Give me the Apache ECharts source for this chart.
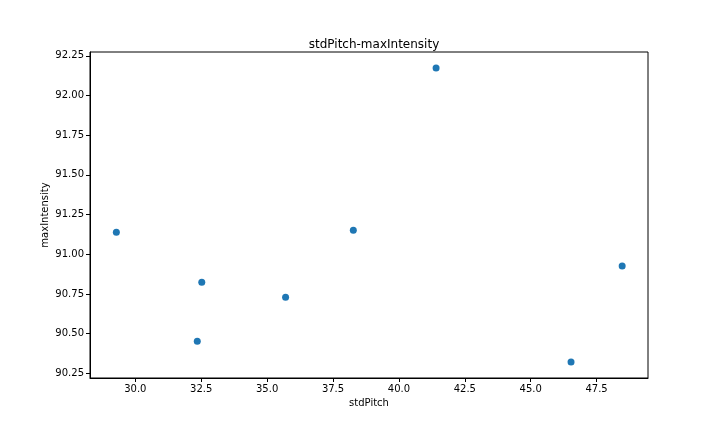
<!DOCTYPE html>
<html lang="en">
  <head>
    <meta charset="UTF-8" />
    <title>stdPitch-maxIntensity</title>
    <style>
      body { margin: 0; background: #fff; }
      #chart { width: 720px; height: 432px; }
    </style>
    <script src="https://cdn.jsdelivr.net/npm/echarts@6/dist/echarts.min.js"></script>
  </head>
  <body>
    <div id="chart"></div>
    <script>
      const stdPitch = [29.28, 32.52, 32.35, 35.7, 38.27, 41.41, 46.53, 48.47];
      const maxIntensity = [91.139, 90.824, 90.452, 90.729, 91.151, 92.173, 90.322, 90.926];
      const xTicks = [30, 32.5, 35, 37.5, 40, 42.5, 45, 47.5];
      const yTicks = [90.25, 90.5, 90.75, 91, 91.25, 91.5, 91.75, 92, 92.25];

      let points = [];
      for (let i = 0; i < stdPitch.length; i++) {
        points.push([stdPitch[i], maxIntensity[i]]);
      }

      const font = "DejaVu Sans";
      let myChart = echarts.init(document.getElementById("chart"), null, { renderer: "canvas" });
      let option = {
        animation: false,
        backgroundColor: "#fff",
        title: {
          text: "stdPitch-maxIntensity",
          left: 369, top: 34, textAlign: "center",
          textStyle: { fontFamily: font, fontSize: 12, fontWeight: "normal", color: "#000" },
        },
        grid: {
          left: 90, right: 72, top: 52, bottom: 54,
          show: true, borderColor: "#000", borderWidth: 1,
        },
        xAxis: {
          type: "value", min: 28.28, max: 49.45,
          name: "stdPitch", nameLocation: "middle", nameGap: 20,
          nameTextStyle: { fontFamily: font, fontSize: 10, color: "#000" },
          splitLine: { show: false },
          axisLine: { show: true, lineStyle: { color: "#000" } },
          axisTick: { show: true, inside: false, length: 4, customValues: xTicks, lineStyle: { color: "#000" } },
          axisLabel: {
            fontFamily: font, fontSize: 10, color: "#000", margin: 6,
            customValues: xTicks,
            formatter: (v) => v.toFixed(1),
          },
        },
        yAxis: {
          type: "value", min: 90.221, max: 92.274,
          name: "maxIntensity", nameLocation: "middle", nameGap: 40, nameRotate: 90,
          nameMoveOverlap: false,
          nameTextStyle: { fontFamily: font, fontSize: 10, color: "#000" },
          splitLine: { show: false },
          axisLine: { show: true, lineStyle: { color: "#000" } },
          axisTick: { show: true, inside: false, length: 4, customValues: yTicks, lineStyle: { color: "#000" } },
          axisLabel: {
            fontFamily: font, fontSize: 10, color: "#000", margin: 6,
            customValues: yTicks,
            formatter: (v) => v.toFixed(2),
          },
        },
        series: [
          {
            type: "scatter",
            data: points,
            symbolSize: 7,
            itemStyle: { color: "#1f77b4", opacity: 1 },
          },
        ],
      };
      myChart.setOption(option);
    </script>
  </body>
</html>
